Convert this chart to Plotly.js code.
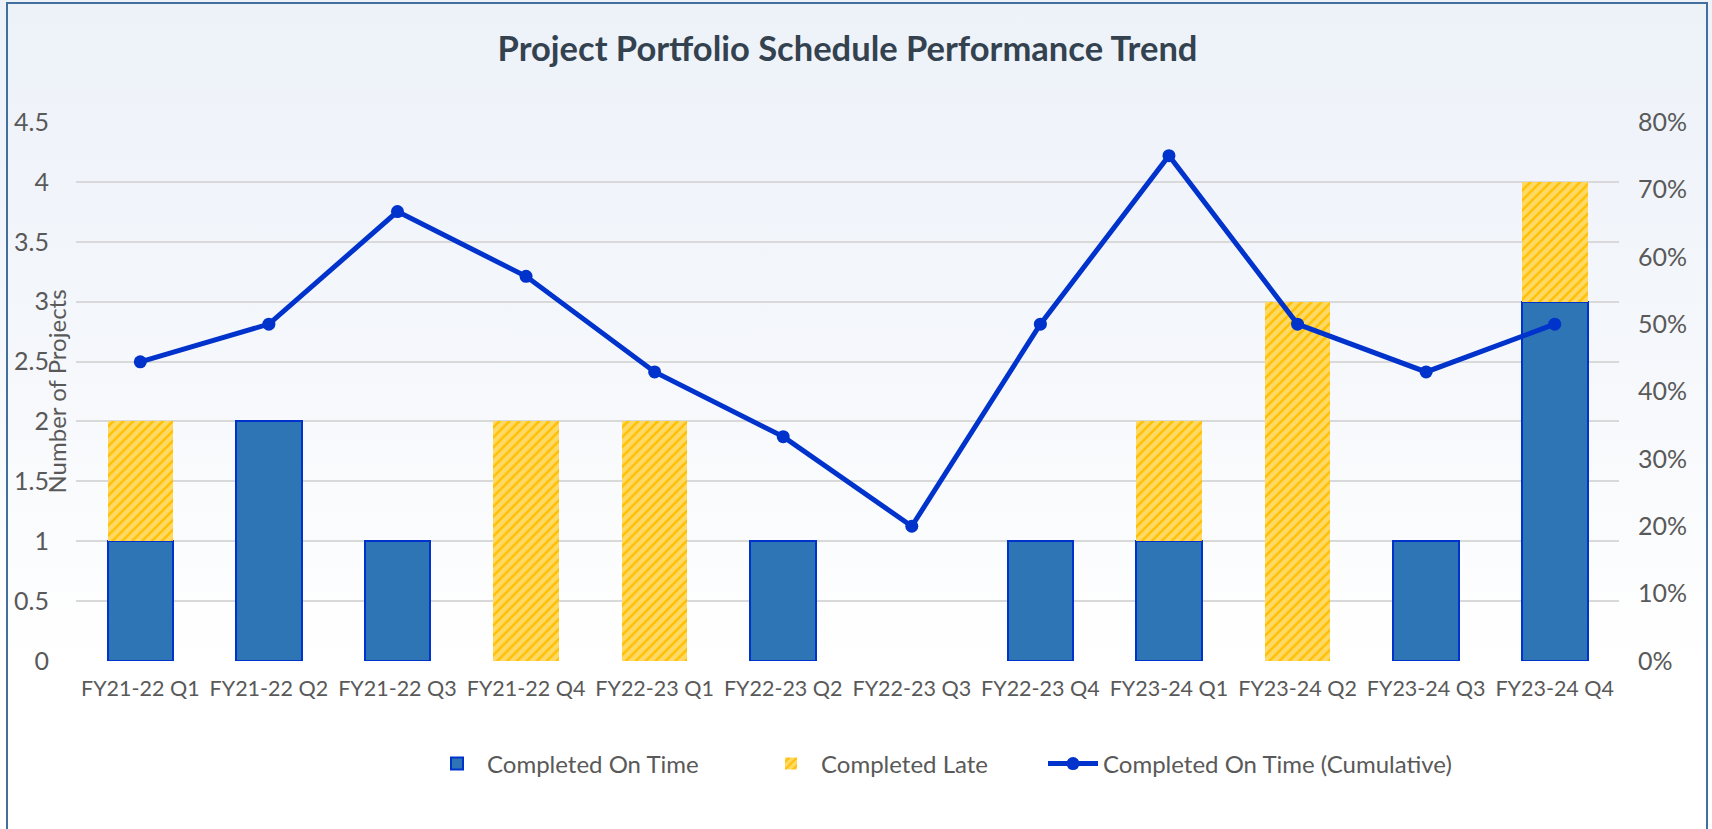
<!DOCTYPE html>
<html>
<head>
<meta charset="utf-8">
<script src="https://cdn.plot.ly/plotly-3.0.1.min.js"></script>
<style>
  html, body { margin:0; padding:0; overflow:hidden; width:1712px; height:829px;
    background: linear-gradient(180deg, #EDF2F9 0%, #F3F6FB 35%, #FAFBFD 60%, #FFFFFF 80%); }
  #chart { position:absolute; left:0; top:0; width:1712px; height:829px; }
  #frame { position:absolute; left:6px; top:2px; width:1702px; height:900px;
    border:2px solid #41709E; box-sizing:border-box; pointer-events:none; }
</style>
</head>
<body>
<div id="chart"></div>
<div id="frame"></div>
<script>
const categories = ["FY21-22 Q1","FY21-22 Q2","FY21-22 Q3","FY21-22 Q4",
                    "FY22-23 Q1","FY22-23 Q2","FY22-23 Q3","FY22-23 Q4",
                    "FY23-24 Q1","FY23-24 Q2","FY23-24 Q3","FY23-24 Q4"];
const completedOnTime = [1, 2, 1, 0, 0, 1, 0, 1, 1, 0, 1, 3];
const completedLate   = [1, 0, 0, 2, 2, 0, 0, 0, 1, 3, 0, 1];
const onTimeCumulative = [0.444, 0.5, 0.667, 0.571, 0.429, 0.333, 0.2, 0.5, 0.75, 0.5, 0.429, 0.5];
const leftTicks = [0, 0.5, 1, 1.5, 2, 2.5, 3, 3.5, 4, 4.5];
const leftTickText = ["0","0.5","1","1.5","2","2.5","3","3.5","4","4.5"];
const rightTicks = [0, 0.1, 0.2, 0.3, 0.4, 0.5, 0.6, 0.7, 0.8];
const rightTickText = ["0%","10%","20%","30%","40%","50%","60%","70%","80%"];

const FONT = "Lato, 'Open Sans', sans-serif";
const TXT = "#595959";
const W = 1712, H = 829;
const L = 76, R = 93, T = 122, B = 168;
const PW = W - L - R, PH = H - T - B;

const nz = a => a.map(v => v === 0 ? null : v);

const traces = [
  {
    type: "bar", name: "Completed On Time", x: categories, y: nz(completedOnTime),
    marker: { color: "#2E75B6", line: { color: "#0033CC", width: 2 } },
    legend: "legend"
  },
  {
    type: "bar", name: "Completed Late", x: categories, y: nz(completedLate),
    marker: { color: "#FFD966", line: { width: 0 },
      pattern: { shape: "/", fgcolor: "#FFC000", bgcolor: "#FFD966", size: 7, solidity: 0.35 } },
    legend: "legend2"
  },
  {
    type: "scatter", mode: "lines+markers", name: "Completed On Time (Cumulative)",
    x: categories, y: onTimeCumulative, yaxis: "y2",
    line: { color: "#0033CC", width: 5 },
    marker: { color: "#0033CC", size: 13 },
    legend: "legend3"
  }
];

function legendAt(px) {
  return {
    orientation: "h", x: (px - L) / PW, xanchor: "left",
    y: -(764 - (H - B)) / PH, yanchor: "middle",
    font: { size: 24, color: TXT, family: FONT },
    bgcolor: "rgba(0,0,0,0)", itemwidth: 50
  };
}

const layout = {
  width: W, height: H,
  paper_bgcolor: "rgba(0,0,0,0)", plot_bgcolor: "rgba(0,0,0,0)",
  margin: { l: L, r: R, t: T, b: B, pad: 0, autoexpand: false },
  barmode: "stack", bargap: 0.49,
  font: { family: FONT, color: TXT, size: 23 },
  title: { text: "<b>Project Portfolio Schedule Performance Trend</b>",
    font: { family: FONT, size: 34.5, color: "#34424F" },
    x: 0.5, xref: "paper", xanchor: "center", y: 1 - 49 / H, yref: "container", yanchor: "middle",
    automargin: false },
  xaxis: {
    type: "category", range: [-0.5, 11.5], tickangle: 0, showgrid: false, zeroline: false, automargin: false,
    showline: false, ticks: "", tickfont: { size: 21.5, color: TXT, family: FONT },
    ticklabelstandoff: 12
  },
  yaxis: {
    range: [0, 4.5], tickvals: leftTicks, ticktext: leftTickText, automargin: false,
    showgrid: true, gridcolor: "#D9D9D9", gridwidth: 2, zeroline: false,
    showline: false, ticks: "", tickfont: { size: 25, color: TXT, family: FONT },
    ticklabelstandoff: 26
  },
  yaxis2: {
    range: [0, 0.8], tickvals: rightTicks, ticktext: rightTickText, automargin: false,
    overlaying: "y", side: "right", showgrid: false, zeroline: false,
    showline: false, ticks: "", tickfont: { size: 25, color: TXT, family: FONT },
    ticklabelstandoff: 18
  },
  legend: legendAt(427),
  legend2: legendAt(761),
  legend3: legendAt(1043),
  annotations: [{
    text: "Number of Projects", textangle: -90, showarrow: false,
    xref: "paper", yref: "paper",
    x: (56 - L) / PW, y: 0.5, xanchor: "center", yanchor: "middle",
    font: { size: 24, color: TXT, family: FONT }
  }],
  showlegend: true
};

Plotly.newPlot("chart", traces, layout, { displayModeBar: false, staticPlot: true });
</script>
</body>
</html>
